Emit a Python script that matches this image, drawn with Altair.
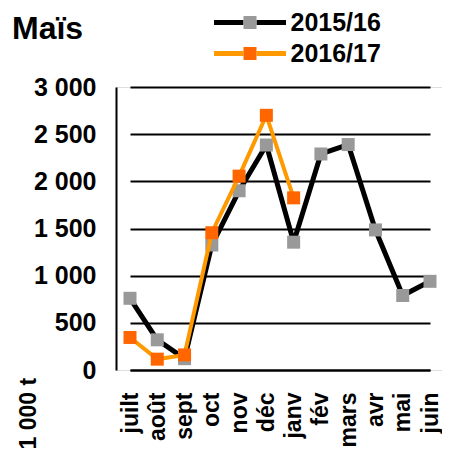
import altair as alt
import pandas as pd

months = ["juilt", "août", "sept", "oct", "nov", "déc", "janv", "fév", "mars", "avr", "mai", "juin"]
s1516 = [760, 320, 120, 1325, 1900, 2385, 1355, 2290, 2390, 1485, 790, 940]
s1617 = [345, 115, 160, 1455, 2055, 2700, 1825]
seasons = ["2015/16", "2016/17"]
marker_keys = ["2015/16 ", "2016/17 "]
line_colors = ["#000000", "#FF9900"]
marker_colors = ["#999999", "#FF6600"]

rows = []
for m, v in zip(months, s1516):
    rows.append({"mois": m, "valeur": v, "campagne": seasons[0], "marqueur": marker_keys[0]})
for m, v in zip(months, s1617):
    rows.append({"mois": m, "valeur": v, "campagne": seasons[1], "marqueur": marker_keys[1]})
df = pd.DataFrame(rows)

FONT = "Liberation Sans"

x_enc = alt.X(
    "mois:N",
    sort=months,
    scale=alt.Scale(type="point", range=[14, 314], padding=0),
    axis=alt.Axis(
        title=None, labelAngle=270, labelAlign="right", labelBaseline="middle",
        labelPadding=22, labelFontSize=23, labelFont=FONT, labelFontWeight="bold",
        labelColor="black", ticks=False, domainColor="black", domainWidth=2,
        grid=False,
    ),
)
y_enc = alt.Y(
    "valeur:Q",
    scale=alt.Scale(domain=[0, 3000], nice=False),
    axis=alt.Axis(
        values=[0, 500, 1000, 1500, 2000, 2500, 3000],
        labelExpr="replace(format(datum.value, ','), ',', ' ')",
        labelFontSize=25, labelFont=FONT, labelFontWeight="bold", labelColor="black",
        labelPadding=20, ticks=False, domainColor="black", domainWidth=2,
        grid=True, gridColor="black", gridWidth=1.8, gridOpacity=1,
        title="1 000 t", titleAngle=270, titleAlign="left", titleBaseline="middle",
        titleX=-88, titleY=362, titleFontSize=23, titleFont=FONT, titleFontWeight="bold",
        titleColor="black",
    ),
)

stroke_enc = alt.Stroke(
    "campagne:N",
    scale=alt.Scale(domain=seasons, range=line_colors),
    legend=alt.Legend(
        title=None, orient="none", legendX=121.5, legendY=-77, padding=0,
        symbolType="M-5.54,0L-1,0M1,0L5.54,0", symbolSize=169, symbolStrokeWidth=5,
        symbolFillColor="transparent",
        labelFontSize=25, labelFont=FONT, labelFontWeight="bold", labelColor="black",
        labelOffset=28, rowPadding=5, labelLimit=300,
    ),
)
fill_enc = alt.Fill(
    "marqueur:N",
    scale=alt.Scale(domain=marker_keys, range=marker_colors),
    legend=alt.Legend(
        title=None, orient="none", legendX=121.5, legendY=-77, padding=0,
        symbolType="square", symbolSize=169, symbolStrokeWidth=0, symbolOpacity=1,
        labelFontSize=25, labelFont=FONT, labelFontWeight="bold", labelOpacity=0,
        labelOffset=28, rowPadding=5, labelLimit=300,
    ),
)

base = alt.Chart(df)

def line_layer(season, width):
    return base.transform_filter(alt.datum.campagne == season).mark_line(
        strokeWidth=width, strokeCap="round", strokeJoin="round"
    ).encode(x=x_enc, y=y_enc, stroke=stroke_enc)

def point_layer(season):
    return base.transform_filter(alt.datum.campagne == season).mark_square(
        size=169, opacity=1, strokeWidth=0
    ).encode(x=x_enc, y=y_enc, fill=fill_enc)

chart = alt.layer(
    line_layer(seasons[0], 5),
    point_layer(seasons[0]),
    line_layer(seasons[1], 4),
    point_layer(seasons[1]),
).properties(
    width=326,
    height=283,
    autosize=alt.AutoSizeParams(type="none"),
    padding={"left": 108, "top": 79, "right": 0, "bottom": 80},
    title=alt.Title(
        "Maïs", anchor="start", frame="group", fontSize=32, font=FONT,
        fontWeight="bold", color="black", dx=-104, dy=46, offset=10,
    ),
).configure_view(
    strokeWidth=0
).configure(
    background="white"
)

chart.save("out.html", embed_options={"renderer": "svg", "actions": False})
